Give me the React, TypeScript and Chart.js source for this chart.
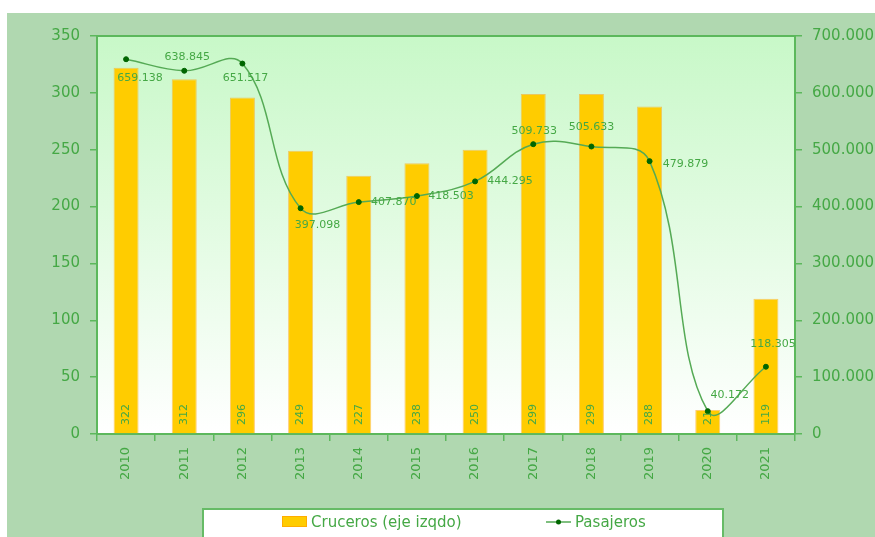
import React, { useEffect, useRef } from "react";
import { Chart, registerables } from "chart.js";

Chart.register(...registerables);

const years = ["2010", "2011", "2012", "2013", "2014", "2015", "2016", "2017", "2018", "2019", "2020", "2021"];
const cruceros = [322, 312, 296, 249, 227, 238, 250, 299, 299, 288, 21, 119];
const pasajeros = [659138, 638845, 651517, 397098, 407870, 418503, 444295, 509733, 505633, 479879, 40172, 118305];
const leftMax = 350;
const leftStep = 50;
const rightMax = 700000;
const rightStep = 100000;
const legendBars = "Cruceros (eje izqdo)";
const legendLine = "Pasajeros";

// label placement offsets (style only) for line value labels
const lineLabelOffsets: [number, number][] = [
  [14, 19], [3, -14], [3, 15], [17, 17], [35, 0], [34, 0],
  [35, 0], [1, -13], [0, -19], [36, 3], [22, -16], [7, -23],
];

const GREEN_TEXT = "#45a845";
const AXIS = "#5cb85c";
const FONT = "'DejaVu Sans', Verdana, sans-serif";

const fmt = (v: number) => String(Math.round(v)).replace(/\B(?=(\d{3})+(?!\d))/g, ".");

const decorPlugin = {
  id: "decor",
  beforeDraw(chart: any) {
    const { ctx, chartArea: a } = chart;
    const g = ctx.createLinearGradient(0, a.top, 0, a.bottom);
    g.addColorStop(0, "#c8f8c8");
    g.addColorStop(1, "#ffffff");
    ctx.save();
    ctx.fillStyle = g;
    ctx.fillRect(a.left, a.top, a.right - a.left, a.bottom - a.top);
    ctx.restore();
  },
  afterDraw(chart: any) {
    const { ctx, chartArea: a } = chart;
    ctx.save();
    // top border
    ctx.strokeStyle = AXIS;
    ctx.lineWidth = 2;
    ctx.beginPath();
    ctx.moveTo(a.left, a.top);
    ctx.lineTo(a.right, a.top);
    ctx.stroke();

    // bar value labels
    const barMeta = chart.getDatasetMeta(0);
    ctx.fillStyle = GREEN_TEXT;
    ctx.font = `11px ${FONT}`;
    barMeta.data.forEach((el: any, i: number) => {
      ctx.save();
      ctx.translate(el.x, a.bottom - 9);
      ctx.rotate(-Math.PI / 2);
      ctx.textAlign = "left";
      ctx.textBaseline = "middle";
      ctx.fillText(String(cruceros[i]), 0, 0);
      ctx.restore();
    });

    // line value labels
    const lineMeta = chart.getDatasetMeta(1);
    ctx.textAlign = "center";
    ctx.textBaseline = "middle";
    lineMeta.data.forEach((el: any, i: number) => {
      const [dx, dy] = lineLabelOffsets[i];
      ctx.fillText(fmt(pasajeros[i]), el.x + dx, el.y + dy);
    });

    // legend
    const lx = 196, ly = 496, lw = 520, lh = 32;
    ctx.fillStyle = "#ffffff";
    ctx.fillRect(lx, ly, lw, lh);
    ctx.strokeStyle = "#66bb66";
    ctx.lineWidth = 2;
    ctx.strokeRect(lx, ly, lw, lh);

    ctx.fillStyle = "#ffcc00";
    ctx.fillRect(275, 503, 25, 11);
    ctx.strokeStyle = "rgba(255,160,0,0.7)";
    ctx.lineWidth = 1;
    ctx.strokeRect(275.5, 503.5, 24, 10);

    ctx.fillStyle = GREEN_TEXT;
    ctx.font = `15px ${FONT}`;
    ctx.textAlign = "left";
    ctx.textBaseline = "middle";
    ctx.fillText(legendBars, 304, 510);

    ctx.strokeStyle = "#55aa55";
    ctx.lineWidth = 1.5;
    ctx.beginPath();
    ctx.moveTo(539, 509);
    ctx.lineTo(564, 509);
    ctx.stroke();
    ctx.fillStyle = "#006600";
    ctx.beginPath();
    ctx.arc(551.5, 509, 2.5, 0, Math.PI * 2);
    ctx.fill();

    ctx.fillStyle = GREEN_TEXT;
    ctx.fillText(legendLine, 568, 510);
    ctx.restore();
  },
};

export default function App() {
  const ref = useRef<HTMLCanvasElement>(null);

  useEffect(() => {
    if (!ref.current) return;
    Chart.defaults.font.family = FONT;
    const chart = new Chart(ref.current, {
      type: "bar",
      data: {
        labels: years,
        datasets: [
          {
            type: "bar",
            label: legendBars,
            data: cruceros,
            yAxisID: "y",
            backgroundColor: "#ffcc00",
            borderColor: "rgba(255,160,0,0.55)",
            borderWidth: 1,
            barPercentage: 0.43,
            categoryPercentage: 1,
            order: 2,
          },
          {
            type: "line",
            label: legendLine,
            data: pasajeros,
            yAxisID: "y2",
            borderColor: "#55aa55",
            borderWidth: 1.5,
            tension: 0.4,
            pointRadius: 2.5,
            pointBackgroundColor: "#006600",
            pointBorderColor: "#006600",
            pointBorderWidth: 1,
            fill: false,
            order: 1,
          } as any,
        ],
      },
      options: {
        responsive: false,
        animation: false,
        maintainAspectRatio: false,
        layout: { padding: { top: 23, left: 0, right: 0, bottom: 0 } },
        plugins: {
          legend: { display: false },
          tooltip: { enabled: false },
        },
        scales: {
          x: {
            type: "category",
            offset: true,
            grid: { offset: true, drawOnChartArea: false, tickLength: 7, color: AXIS, lineWidth: 1.5 },
            border: { color: AXIS, width: 2 },
            ticks: {
              color: GREEN_TEXT,
              font: { size: 13, family: FONT },
              minRotation: 90,
              maxRotation: 90,
              autoSkip: false,
              padding: 6,
            },
            afterFit: (s: any) => { s.height = 103; },
          },
          y: {
            position: "left",
            min: 0,
            max: leftMax,
            grid: { drawOnChartArea: false, tickLength: 7, color: AXIS, lineWidth: 1.5 },
            border: { color: AXIS, width: 2 },
            ticks: {
              stepSize: leftStep,
              color: GREEN_TEXT,
              font: { size: 15, family: FONT },
              padding: 10,
            },
            afterFit: (s: any) => { s.width = 90; },
          },
          y2: {
            position: "right",
            min: 0,
            max: rightMax,
            grid: { drawOnChartArea: false, tickLength: 7, color: AXIS, lineWidth: 1.5 },
            border: { color: AXIS, width: 2 },
            ticks: {
              stepSize: rightStep,
              color: GREEN_TEXT,
              font: { size: 15, family: FONT },
              padding: 10,
              callback: (v: any) => fmt(Number(v)),
            },
            afterFit: (s: any) => { s.width = 80; },
          },
        },
      },
      plugins: [decorPlugin],
    });
    return () => chart.destroy();
  }, []);

  return (
    <div
      style={{
        position: "fixed",
        left: 7,
        top: 13,
        width: 868,
        height: 524,
        background: "#b0d8b0",
      }}
    >
      <canvas ref={ref} width={868} height={524} style={{ display: "block" }} />
    </div>
  );
}
